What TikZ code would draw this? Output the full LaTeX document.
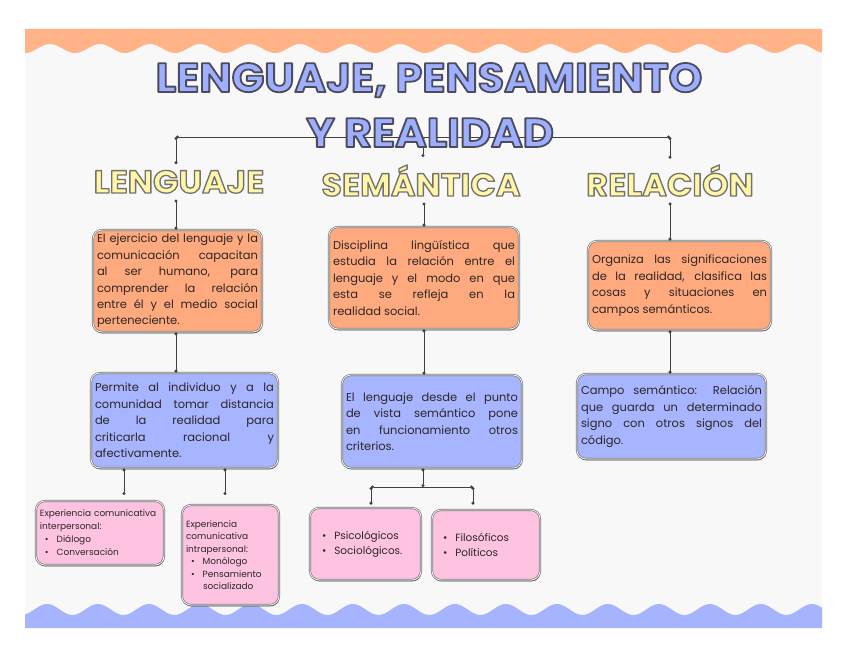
\documentclass[tikz,border=0pt]{standalone}
\usepackage{fontspec}
\setmainfont{Poppins}
\usetikzlibrary{arrows.meta}
\usetikzlibrary{shadows}

\definecolor{paper}{HTML}{F8F8F8}
\definecolor{bandorange}{HTML}{FFB387}
\definecolor{bandblue}{HTML}{A5B4FC}
\definecolor{boxorange}{HTML}{FFAA7E}
\definecolor{boxblue}{HTML}{A7B4FF}
\definecolor{boxpink}{HTML}{FFC3E2}
\definecolor{titleblue}{HTML}{9FAFFF}
\definecolor{headyellow}{HTML}{FFF6A9}
\definecolor{ink}{HTML}{2E2626}

\tolerance=9999
\hyphenpenalty=10000

% filled letters with a stroked edge (#2 = edge colour as rgb, #3 = edge width)
\newcommand{\edgetext}[3]{\special{pdf:literal direct #2 RG 2 Tr #3 w 1 j}#1\special{pdf:literal direct 0 Tr 1 w 0 j}}

\begin{document}
\begin{tikzpicture}[x=1bp,y=-1bp,>=Stealth,
	box/.style={rounded corners=9bp, draw=black!55, line width=0.7bp,
		double=white, double distance=0.7bp, inner xsep=4bp, inner ysep=3bp,
		drop shadow={shadow xshift=0.4bp, shadow yshift=-1.4bp, fill=black!75, opacity=0.9}},
	orangebox/.style={box, fill=boxorange},
	bluebox/.style={box, fill=boxblue},
	pinkbox/.style={box, fill=boxpink},
	body/.style={font=\fontsize{11.5}{16.5}\selectfont, text=ink, align=justify},
	listtext/.style={font=\fontsize{9}{13}\selectfont, text=ink, align=left},
	title/.style={font=\fontsize{41}{41}\selectfont\bfseries, text=titleblue, anchor=base, inner sep=0pt},
	heading/.style={font=\fontsize{32}{32}\selectfont\bfseries, text=headyellow, anchor=base, inner sep=6bp},
	link/.style={draw=black!75, line width=0.8bp, {Circle[length=3bp]}-{Circle[length=3bp]}}]

	\useasboundingbox (0,0) rectangle (848,655);
	\fill[white] (0,0) rectangle (848,655);
	\fill[paper] (25,29) rectangle (822,628);

	% Wavy bands
	\fill[bandorange] (25,29) -- (822,29)
		-- plot[domain=822:25, samples=320] (\x,{48.5+4.5*cos(7.2*(\x-25))}) -- cycle;
	\fill[bandblue] (25,628) -- (822,628)
		-- plot[domain=822:25, samples=320] (\x,{609.5-5.5*cos(7.06*(\x-47))}) -- cycle;

	% Top bar
	\coordinate (colL) at (176,137);
	\coordinate (colR) at (670,137);
	\coordinate (bar) at (423,137);
	\coordinate (semTop) at (423,157);
	\draw[link] (colL) -- (colR);
	\draw[link] (bar) -- (semTop);

	% Title
	\node[title] (titleA) at (429,92) {\scalebox{1.05}[1]{\edgetext{LENGUAJE, PENSAMIENTO}{0.3 0.3 0.36}{1.8}}};
	\node[title] (titleB) at (430,147) {\scalebox{1.05}[1]{\edgetext{Y REALIDAD}{0.3 0.3 0.36}{1.8}}};

	% Headings
	\node[heading] (hLeng) at (179,193) {\scalebox{1.05}[1]{\edgetext{LENGUAJE}{0.45 0.45 0.42}{1.3}}};
	\node[heading] (hSem) at (421,196) {\scalebox{1.05}[1]{\edgetext{SEMÁNTICA}{0.45 0.45 0.42}{1.3}}};
	\node[heading] (hRel) at (670,196) {\scalebox{1.05}[1]{\edgetext{RELACIÓN}{0.45 0.45 0.42}{1.3}}};

	\draw[link] (colL) -- (colL |- hLeng.north);
	\draw[link] (colR) -- (colR |- hRel.north);

	% Orange boxes
	\node[orangebox, body, text width=161bp, minimum height=102bp] (lenA) at (177.5,281)
		{El ejercicio del lenguaje y la\linebreak comunicación capacitan\linebreak al ser humano, para\linebreak
		comprender la relación\linebreak entre él y el medio social\linebreak perteneciente.};
	\node[orangebox, body, text width=182bp, minimum height=102bp] (semA) at (424,278)
		{Disciplina lingüística que\linebreak estudia la relación entre el\linebreak lenguaje y el modo en que\linebreak
		esta se refleja en la\linebreak realidad social.};
	\node[orangebox, body, text width=175bp, minimum height=89bp] (relA) at (679.5,285.5)
		{Organiza las significaciones\linebreak de la realidad, clasifica las\linebreak cosas y situaciones en\linebreak
		campos semánticos.};

	\draw[link] (colL |- hLeng.south) -- (colL |- lenA.north);
	\draw[link] (semA.north |- hSem.south) -- (semA.north);
	\draw[link] (colR |- hRel.south) -- (colR |- relA.north);

	% Blue boxes
	\node[bluebox, body, text width=179bp, minimum height=95bp] (lenB) at (184.5,420.5)
		{Permite al individuo y a la\linebreak comunidad tomar distancia\linebreak de la realidad para\linebreak
		criticarla racional y\linebreak afectivamente.};
	\node[bluebox, body, text width=172bp, minimum height=93bp] (semB) at (432,421.5)
		{El lenguaje desde el punto\linebreak de vista semántico pone\linebreak en funcionamiento otros\linebreak criterios.};
	\node[bluebox, body, text width=181bp, minimum height=85bp] (relB) at (671.5,416.5)
		{Campo semántico: Relación\linebreak que guarda un determinado\linebreak signo con otros signos del\linebreak código.};

	\draw[link] (lenA.south -| colL) -- (lenB.north -| colL);
	\draw[link] (semA.south) -- (semA.south |- semB.north);
	\draw[link] (relA.south -| colR) -- (relB.north -| colR);

	% Pink boxes
	\node[pinkbox, listtext, text width=120bp, minimum height=64bp] (interA) at (100,533)
		{Experiencia comunicativa\\ interpersonal:\\
		\hspace*{5bp}\textbullet\hspace{8bp}Diálogo\\
		\hspace*{5bp}\textbullet\hspace{8bp}Conversación};
	\node[pinkbox, listtext, font=\fontsize{9}{12.5}\selectfont, text width=89bp, minimum height=100bp] (intraB) at (230.5,555)
		{Experiencia\\ comunicativa\\ intrapersonal:\\
		\hspace*{5bp}\textbullet\hspace{8bp}Monólogo\\
		\hspace*{5bp}\textbullet\hspace{8bp}Pensamiento\\
		\hspace*{17bp}socializado};
	\node[pinkbox, listtext, font=\fontsize{10.5}{15}\selectfont, text width=103bp, minimum height=72bp] (psyC) at (365.5,544)
		{\hspace*{8bp}\textbullet\hspace{8bp}Psicológicos\\
		\hspace*{8bp}\textbullet\hspace{8bp}Sociológicos.};
	\node[pinkbox, listtext, font=\fontsize{10.5}{15}\selectfont, text width=100bp, minimum height=70bp] (filD) at (486,545)
		{\hspace*{7bp}\textbullet\hspace{8bp}Filosóficos\\
		\hspace*{7bp}\textbullet\hspace{8bp}Políticos};

	\coordinate (splitA) at (124,495);
	\coordinate (splitB) at (225,495);
	\draw[link] (splitA |- lenB.south) -- (splitA);
	\draw[link] (splitB |- lenB.south) -- (splitB);

	\coordinate (forkM) at (423,487);
	\coordinate (forkL) at (371,487);
	\coordinate (forkR) at (473,487);
	\draw[link] (forkM |- semB.south) -- (forkM);
	\draw[link] (forkL) -- (forkR);
	\draw[link, shorten >=3bp] (forkL) -- (forkL |- psyC.north);
	\draw[link, shorten >=5bp] (forkR) -- (forkR |- filD.north);

\end{tikzpicture}
\end{document}
